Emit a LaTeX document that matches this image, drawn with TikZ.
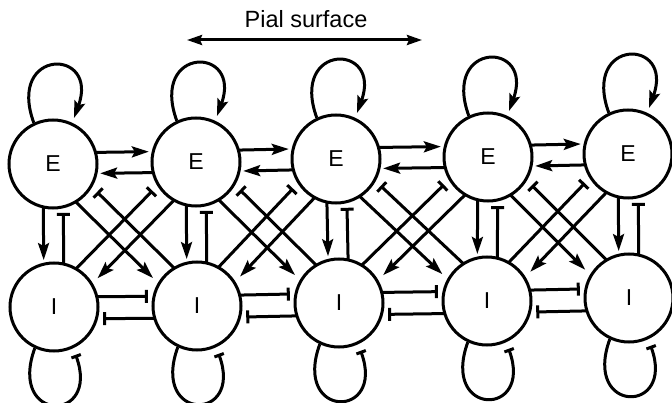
\documentclass[tikz,border=0pt]{standalone}
\usepackage{fontspec}
\setmainfont{Liberation Sans}
\usetikzlibrary{arrows.meta,calc}
\newcommand{\conlink}[5][]{\draw[#2,#1] ($(#3.center)!#5!90:(#4.center)$) -- ($(#4.center)!#5!-90:(#3.center)$);}
\begin{document}
\begin{tikzpicture}[x=1pt,y=-1pt,
  neuron/.style={circle,draw,line width=3pt,minimum size=88pt,inner sep=0pt,font=\fontsize{23}{26}\selectfont},
  wire/.style={line width=3pt},
  exctip/.style={-{Stealth[length=17pt,width=11pt,inset=3pt]}},
  inhtip/.style={-{Bar[width=13pt]}},
  exc/.style={wire,exctip,shorten <=42.5pt,shorten >=47pt},
  inh/.style={wire,inhtip,shorten <=42.5pt,shorten >=49pt},
  diag/.style={shorten >=51pt}
]
\useasboundingbox (0,0) rectangle (672,403);
% neurons
\node[neuron] (e1) at (53,164) {E};
\node[neuron] (e2) at (196,162) {E};
\node[neuron] (e3) at (336,159) {E};
\node[neuron] (e4) at (488,157) {E};
\node[neuron] (e5) at (628,154) {E};
\node[neuron] (i1) at (54,307) {I};
\node[neuron] (i2) at (197,306) {I};
\node[neuron] (i3) at (339,303) {I};
\node[neuron] (i4) at (487,301) {I};
\node[neuron] (i5) at (629,298) {I};
% pial surface
\node[font=\fontsize{23.5}{27}\selectfont] (pial) at (306,19) {Pial surface};
\coordinate (pl) at (187,40);
\coordinate (pr) at (422,40);
\draw[line width=3pt,{Stealth[length=15pt,width=10pt,inset=2pt]}-{Stealth[length=15pt,width=10pt,inset=2pt]}] (pl) -- (pr);
% horizontal and diagonal connections
\foreach \a/\b in {1/2,2/3,3/4,4/5}{
  \conlink{exc}{e\a}{e\b}{11pt}
  \conlink{exc}{e\b}{e\a}{10pt}
  \conlink{inh}{i\a}{i\b}{10pt}
  \conlink{inh}{i\b}{i\a}{12pt}
  \conlink[diag]{exc}{e\a}{i\b}{-11pt}
  \conlink[diag]{inh}{i\b}{e\a}{-11pt}
  \conlink[diag]{exc}{e\b}{i\a}{11pt}
  \conlink[diag]{inh}{i\a}{e\b}{11pt}
}
% vertical connections and self loops
\foreach \k in {1,...,5}{
  \conlink{exc}{e\k}{i\k}{-10pt}
  \conlink{inh}{i\k}{e\k}{-10pt}
  \draw[wire,exctip,shorten >=5pt] (e\k.115) .. controls +(-110:80) and +(-70:80) .. (e\k.65);
  \draw[wire,-{Bar[width=10pt]},shorten >=7pt] (i\k.245) .. controls +(110:80) and +(70:80) .. (i\k.295);
}
\end{tikzpicture}
\end{document}
